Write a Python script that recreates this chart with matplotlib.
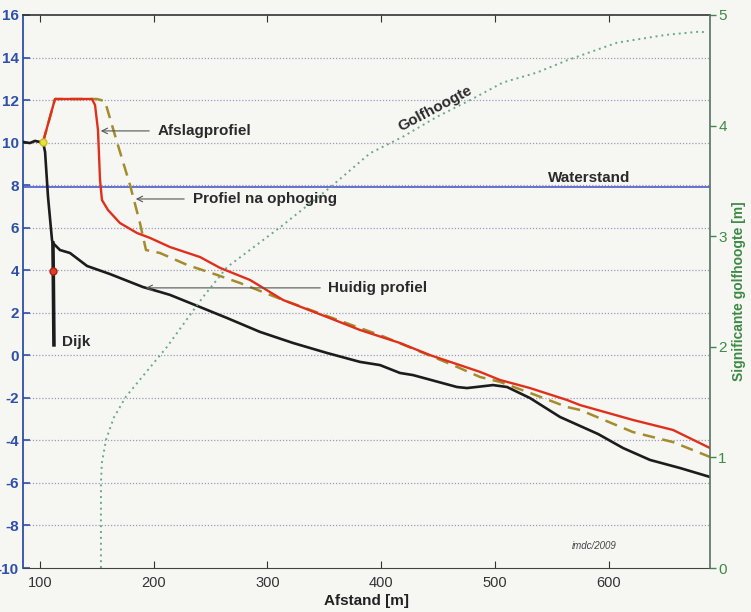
import matplotlib
matplotlib.use("Agg")
import matplotlib.pyplot as plt

plt.rcParams['font.family'] = ['Liberation Sans', 'DejaVu Sans']
plt.rcParams['axes.unicode_minus'] = False

# ---------------- data ----------------
huidig_x = [85.2, 91.3, 95.7, 100.1, 102.8, 104.6, 107.2, 110.7, 111.5, 117.7, 126.5,
            141.5, 161.7, 190.6, 205.6, 214.4, 240.8, 264.7, 293.5, 322.5, 352.4,
            381.4, 399.0, 416.5, 428.0, 466.6, 475.4, 498.3, 510.6, 530.8, 557.2,
            590.6, 612.6, 636.3, 662.7, 689.0]
huidig_y = [10.03, 9.98, 10.08, 10.03, 10.03, 9.56, 7.44, 5.42, 5.28, 4.95, 4.81,
            4.20, 3.82, 3.21, 2.98, 2.84, 2.27, 1.75, 1.10, 0.58, 0.11,
            -0.31, -0.46, -0.83, -0.93, -1.49, -1.54, -1.40, -1.49, -2.01, -2.90,
            -3.70, -4.36, -4.92, -5.30, -5.72]

dijk_x = [111.5, 111.8, 112.4]
dijk_y = [5.28, 3.96, 0.49]

afslag_x = [102.8, 113.3, 145.8, 148.5, 151.1, 152.9, 154.6, 159.9, 170.4, 185.4,
            196.8, 214.4, 240.8, 258.4, 284.8, 313.8, 352.4, 381.4, 416.5, 442.9,
            486.9, 504.4, 530.8, 563.3, 574.8, 621.3, 656.5, 689.0]
afslag_y = [10.03, 12.05, 12.05, 11.77, 10.59, 8.24, 7.30, 6.83, 6.22, 5.75,
            5.52, 5.09, 4.62, 4.11, 3.54, 2.60, 1.80, 1.19, 0.58, 0.01,
            -0.78, -1.16, -1.54, -2.10, -2.34, -3.04, -3.51, -4.36]

ophoging_x = [102.8, 113.3, 150.2, 157.2, 167.8, 179.3, 188.0, 193.3, 205.6, 229.4,
              255.7, 275.9, 313.8, 381.4, 399.0, 463.1, 486.9, 504.4, 530.8, 563.3,
              574.8, 621.3, 656.5, 689.0]
ophoging_y = [10.03, 12.05, 12.05, 11.95, 10.03, 8.00, 6.22, 4.95, 4.81, 4.25,
              3.78, 3.40, 2.60, 1.28, 0.95, -0.46, -1.02, -1.25, -1.77, -2.43,
              -2.57, -3.61, -4.08, -4.78]

golf_x = [153.7, 153.7, 154.5, 158.2, 165.0, 175.7, 211.8, 243.4, 264.5, 311.1,
          355.0, 390.2, 419.2, 449.1, 478.1, 507.1, 537.0, 563.3, 607.3, 650.0,
          680.2, 686.4]
golf_y = [0.0, 0.77, 0.95, 1.16, 1.36, 1.55, 2.00, 2.45, 2.72, 3.08,
          3.44, 3.75, 3.90, 4.08, 4.23, 4.39, 4.48, 4.59, 4.75, 4.82,
          4.85, 4.84]

waterstand = 7.9

x_ticks = [100, 200, 300, 400, 500, 600]
y_ticks = list(range(-10, 17, 2))
hs_ticks = [0, 1, 2, 3, 4, 5]

# ---------------- figure ----------------
bg = '#f6f6f3'
fig = plt.figure(figsize=(7.51, 6.12), dpi=100, facecolor=bg)
ax = fig.add_axes([23/751, 44/612, (710-23)/751, (568-15)/612])
ax.set_facecolor(bg)
ax.set_xlim(85.2, 689)
ax.set_ylim(-10, 16)

blue = '#2f4fa8'
green = '#3d8a45'

ax.set_yticks(y_ticks)
ax.set_xticks(x_ticks)
for y in y_ticks[1:-1]:
    ax.axhline(y, color='#9c9cba', lw=0.9, ls=(0, (1, 1.5)), zorder=1)

ax.axhline(waterstand, color='#4a5cc8', lw=1.2, zorder=2)

ax.plot(ophoging_x, ophoging_y, color='#a48c2c', lw=1.8, ls=(0, (5, 3)), zorder=3)
ax.plot(afslag_x, afslag_y, color='#e0301c', lw=1.7, zorder=4)
ax.plot(huidig_x, huidig_y, color='#1c1c1c', lw=1.9, zorder=5)
ax.plot(dijk_x, dijk_y, color='#1c1c1c', lw=2.6, zorder=5)
ax.plot([102.8], [10.03], 'o', ms=5, mfc='#e6e23a', mec='#c8c020', zorder=6)
ax.plot([111.6], [3.96], 'o', ms=5, mfc='#d8402a', mec='#b02010', zorder=6)

ax.tick_params(axis='y', direction='in', left=True, right=True, length=5,
               colors=blue, labelsize=11, width=1.2, pad=3)
for lab in ax.get_yticklabels():
    lab.set_fontweight('bold')
ax.tick_params(axis='x', direction='in', top=True, bottom=True, length=5,
               colors='#333333', labelsize=10.5, pad=6)

ax.spines['left'].set_color(blue)
ax.spines['left'].set_linewidth(1.3)
ax.spines['bottom'].set_color('#444444')
ax.spines['top'].set_color('#333333')
ax.spines['top'].set_linewidth(1.2)
ax.spines['right'].set_visible(False)

ax.set_xlabel('Afstand [m]', fontsize=11, fontweight='bold', color='#222222', labelpad=3)

# annotations
tc = '#2a2a2a'
ac = '#555555'
ax.annotate('', xy=(151.1, 10.55), xytext=(198.6, 10.55),
            arrowprops=dict(arrowstyle='->', color=ac, lw=0.8), zorder=7)
ax.text(203.8, 10.55, 'Afslagprofiel', fontsize=11, fontweight='bold', color=tc,
        va='center', ha='left')
ax.annotate('', xy=(181.9, 7.35), xytext=(229.3, 7.35),
            arrowprops=dict(arrowstyle='->', color=ac, lw=0.8), zorder=7)
ax.text(234.6, 7.35, 'Profiel na ophoging', fontsize=11, fontweight='bold', color=tc,
        va='center', ha='left')
ax.annotate('', xy=(190.6, 3.17), xytext=(348.9, 3.17),
            arrowprops=dict(arrowstyle='->', color=ac, lw=0.8), zorder=7)
ax.text(353.3, 3.17, 'Huidig profiel', fontsize=11, fontweight='bold', color=tc,
        va='center', ha='left')
ax.text(546.6, 8.34, 'Waterstand', fontsize=11, fontweight='bold', color=tc,
        va='center', ha='left')
ax.text(119.5, 0.63, 'Dijk', fontsize=11, fontweight='bold', color=tc,
        va='center', ha='left')
ax.text(447.3, 11.6, 'Golfhoogte', fontsize=11, fontweight='bold', color=tc,
        va='center', ha='center', rotation=28, rotation_mode='anchor')
ax.text(587.1, -8.97, 'imdc/2009', fontsize=7, style='italic', color='#444444',
        va='center', ha='center')

# right axis: significant wave height
ax2 = ax.twinx()
ax2.set_ylim(0, 5)
ax2.set_yticks(hs_ticks)
ax2.plot(golf_x, golf_y, color='#6aaa84', lw=1.4, ls=(0, (1, 2)), zorder=3)
ax2.tick_params(axis='y', direction='out', length=4, colors=green, labelsize=11,
                width=1, pad=2)
ax2.spines['right'].set_color('#5a7060')
ax2.spines['right'].set_linewidth(1.2)
for s in ['left', 'top', 'bottom']:
    ax2.spines[s].set_visible(False)
ax2.set_ylabel('Significante golfhoogte [m]', fontsize=10, fontweight='bold',
               color=green, labelpad=4)

fig.savefig('out.png', dpi=100, facecolor=bg)
